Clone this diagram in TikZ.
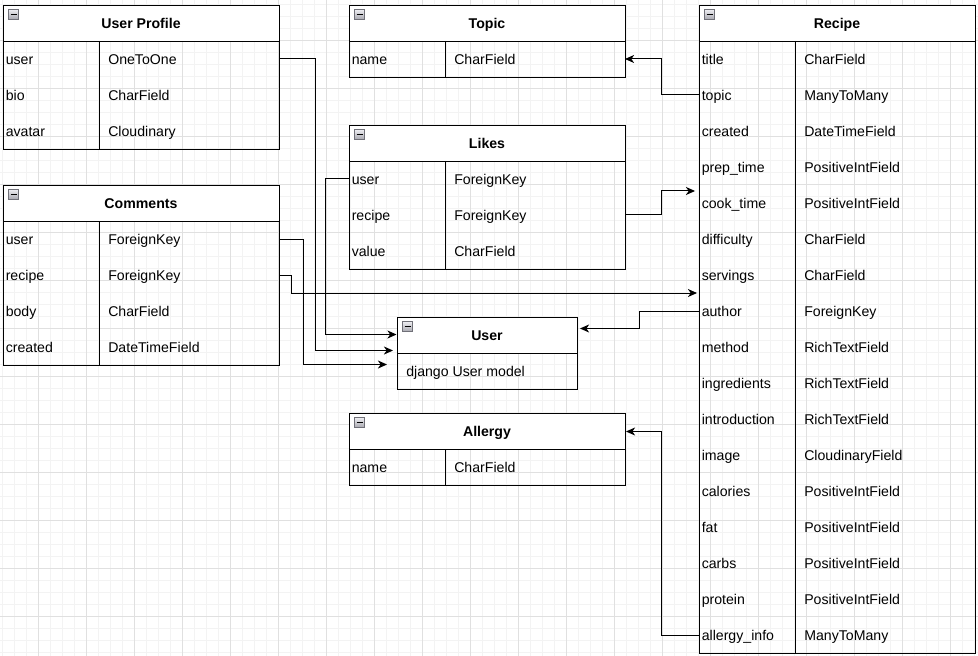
\documentclass[tikz,border=0pt]{standalone}
\usepackage{fontspec}
\setmainfont{Liberation Sans}
\usetikzlibrary{arrows.meta,calc}
\definecolor{gridminor}{HTML}{F3F3F3}
\definecolor{gridmajor}{HTML}{E0E0E0}
\definecolor{icontop}{HTML}{EEEEF2}
\definecolor{iconbot}{HTML}{A8A8B0}
\definecolor{iconedge}{HTML}{707078}
\tikzset{
  tline/.style={line width=0.75pt, draw=black},
  hdr/.style={tline, fill=white, inner sep=0pt, minimum height=27pt, anchor=north west},
  bodybox/.style={tline, inner sep=0pt, anchor=north west},
  ttl/.style={font=\fontsize{10.6pt}{12pt}\selectfont\bfseries, inner sep=0pt, anchor=base},
  fld/.style={font=\fontsize{10.6pt}{12pt}\selectfont, inner sep=0pt, anchor=base west},
  conn/.style={line width=0.75pt, draw=black, -{Stealth[length=6.8pt, width=6pt, inset=2pt]}},
}
% name, x, y, width, title, rows
\newcommand{\mktable}[6]{%
  \node[hdr, minimum width={#4*0.75pt}] (#1H) at (#2,#3) {};
  \foreach \f/\t [count=\i] in {#6} {%
    \node[fld] (#1f\i) at (#2+2.5, #3+36*\i+23.3) {\f};
    \node[fld] (#1t\i) at (#2+105, #3+36*\i+23.3) {\t};
    \coordinate (#1r\i) at (#2, #3+36*\i+18);
    \coordinate (#1R\i) at (#2+#4, #3+36*\i+18);
    \xdef\nrows{\i}%
  }
  \node[bodybox, minimum width={#4*0.75pt}, minimum height={36*\nrows*0.75pt}] (#1B) at (#2,#3+36) {};
  \draw[tline] (#2+96,#3+36) -- (#2+96,#3+36+36*\nrows);
  \node[ttl] (#1T) at (#2+#4/2, #3+23.3) {#5};
  \mkicon{#2}{#3}
}
\newcommand{\mkicon}[2]{%
  \shade[top color=icontop, bottom color=iconbot, draw=iconedge, line width=0.6pt] (#1+5.5,#2+4.5) rectangle (#1+15.5,#2+14.5);
  \draw[black, line width=1.2pt] (#1+7.5,#2+9.5) -- (#1+13.5,#2+9.5);
}
\begin{document}
\begin{tikzpicture}[x=0.75pt, y=-0.75pt]
\useasboundingbox (0,0) rectangle (978,656);
\fill[white] (0,0) rectangle (978,656);
% grid
\foreach \k in {0,...,81} {\draw[gridminor, line width=0.75pt] (2.5+12*\k,0) -- (2.5+12*\k,656);}
\foreach \k in {0,...,54} {\draw[gridminor, line width=0.75pt] (0,4.5+12*\k) -- (978,4.5+12*\k);}
\foreach \k in {0,...,19} {\draw[gridmajor, line width=0.75pt] (38.5+48*\k,0) -- (38.5+48*\k,656);}
\foreach \k in {0,...,12} {\draw[gridmajor, line width=0.75pt] (0,40.5+48*\k) -- (978,40.5+48*\k);}

% tables
\mktable{up}{3}{5}{276}{User Profile}{user/OneToOne, bio/CharField, avatar/Cloudinary}
\mktable{cm}{3}{185}{276}{Comments}{user/ForeignKey, recipe/ForeignKey, body/CharField, created/DateTimeField}
\mktable{tp}{349}{5}{276}{Topic}{name/CharField}
\mktable{lk}{349}{125}{276}{Likes}{user/ForeignKey, recipe/ForeignKey, value/CharField}
\mktable{al}{349}{413}{276}{Allergy}{name/CharField}
\mktable{rc}{699}{5}{276}{Recipe}{title/CharField, topic/ManyToMany, created/DateTimeField, prep\_time/PositiveIntField, cook\_time/PositiveIntField, difficulty/CharField, servings/CharField, author/ForeignKey, method/RichTextField, ingredients/RichTextField, introduction/RichTextField, image/CloudinaryField, calories/PositiveIntField, fat/PositiveIntField, carbs/PositiveIntField, protein/PositiveIntField, allergy\_info/ManyToMany}

% User table
\node[hdr, minimum width={180*0.75pt}] (usH) at (397,317) {};
\node[bodybox, minimum width={180*0.75pt}, minimum height={36*0.75pt}] (usB) at (397,353) {};
\node[ttl] (usT) at (487,340.3) {User};
\node[fld] (usf1) at (406,376.3) {django User model};
\mkicon{397}{317}

% connectors
\draw[conn] (rcr2) -- ++(-38,0) |- (tpR1);
\draw[conn] (lkR2) -- ++(36,0) |- ($(rcr5)+(-4,-12)$);
\draw[conn] (cmR2) -- ++(12,0) |- ($(rcr8)+(-2,-18)$);
\draw[conn] (rcr8) -- ++(-60,0) |- ($(usH.east)+(2,-7)$);
\draw[conn] (lkr1) -- ++(-24,0) |- ($(usH.west)+(-0.5,-1)$);
\draw[conn] (upR1) -- ++(36,0) |- ($(usH.west)+(-4,15)$);
\draw[conn] (cmR1) -- ++(24,0) |- ($(usH.west)+(-10,29)$);
\draw[conn] (rcr17) -- ++(-38,0) |- (alH.east);
\end{tikzpicture}
\end{document}
